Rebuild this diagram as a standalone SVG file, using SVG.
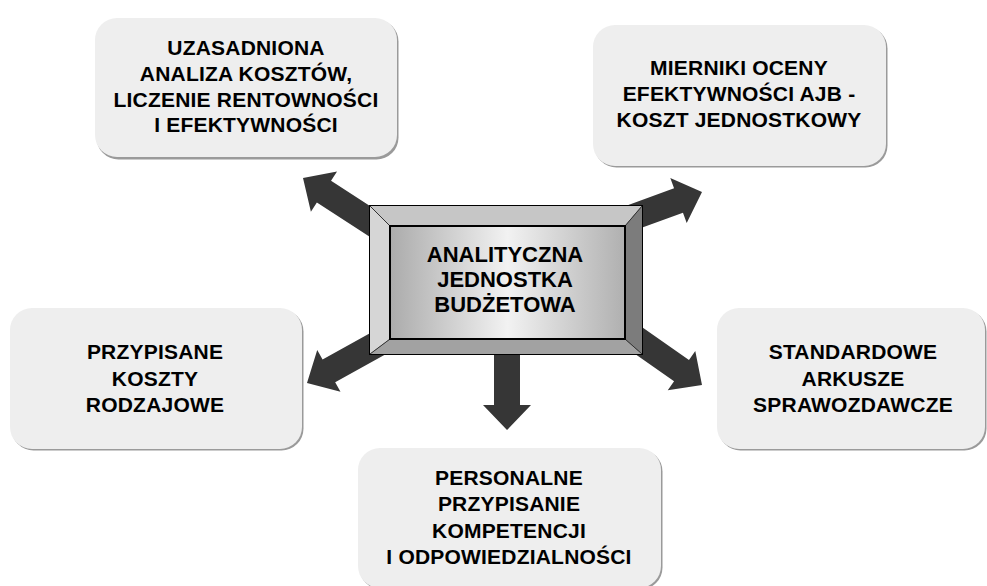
<svg xmlns="http://www.w3.org/2000/svg" width="987" height="586" viewBox="0 0 987 586">
  <style>
    .card { fill: #eeeeee; }
    .card-shadow { fill: #9a9a9a; }
    .lbl { font-family: "Liberation Sans", Arial, sans-serif; font-weight: bold; font-size: 21px; fill: #000; text-anchor: middle; letter-spacing: 0.2px; }
    .hub { font-size: 22px; letter-spacing: 0; }
    .arrow { fill: #363636; }
  </style>
  <defs>
    <!-- block arrow pointing right, tip at the origin -->
    <polygon id="blockArrow" points="0,0 -25,-24 -25,-13 -110,-13 -110,13 -25,13 -25,24"/>
    <linearGradient id="hubFace" x1="0" y1="0" x2="1" y2="0">
      <stop offset="0" stop-color="#ababab"/>
      <stop offset="0.5" stop-color="#f2f2f2"/>
      <stop offset="1" stop-color="#b0b0b0"/>
    </linearGradient>
  </defs>

  <rect width="987" height="586" fill="#ffffff"/>

  <!-- outgoing arrows from the hub -->
  <g id="connectors" class="arrow">
    <use href="#blockArrow" transform="translate(303,178) rotate(213)"/>
    <use href="#blockArrow" transform="translate(702,192) rotate(-20)"/>
    <use href="#blockArrow" transform="translate(307,383) rotate(151)"/>
    <use href="#blockArrow" transform="translate(702,385) rotate(35)"/>
    <use href="#blockArrow" transform="translate(507,430) rotate(90)"/>
  </g>

  <!-- bevelled hub -->
  <g id="hub">
    <rect x="369" y="205" width="274" height="150" fill="#000"/>
    <polygon points="370,206 642,206 625,226 390,226" fill="#c6c6c6"/>
    <polygon points="370,206 390,226 390,339 370,354" fill="#d6d6d6"/>
    <polygon points="642,206 642,354 625,339 625,226" fill="#7c7c7c"/>
    <polygon points="370,354 390,339 625,339 642,354" fill="#a2a2a2"/>
    <g stroke="#333" stroke-width="1">
      <line x1="370" y1="206" x2="390" y2="226"/>
      <line x1="642" y1="206" x2="625" y2="226"/>
      <line x1="370" y1="354" x2="390" y2="339"/>
      <line x1="642" y1="354" x2="625" y2="339"/>
    </g>
    <rect x="390" y="226" width="235" height="113" fill="url(#hubFace)" stroke="#000" stroke-width="2"/>
    <text class="lbl hub" x="505" y="262">ANALITYCZNA</text>
    <text class="lbl hub" x="505" y="287">JEDNOSTKA</text>
    <text class="lbl hub" x="505" y="312">BUDŻETOWA</text>
  </g>

  <g id="node-costs-analysis">
    <rect class="card-shadow" x="96.5" y="19.5" width="302" height="140" rx="22"/>
    <rect class="card" x="95" y="18" width="302" height="139" rx="22"/>
    <text class="lbl" x="246" y="55">UZASADNIONA</text>
    <text class="lbl" x="246" y="81">ANALIZA KOSZTÓW,</text>
    <text class="lbl" x="246" y="107">LICZENIE RENTOWNOŚCI</text>
    <text class="lbl" x="246" y="132">I EFEKTYWNOŚCI</text>
  </g>

  <g id="node-measures">
    <rect class="card-shadow" x="594.5" y="26.5" width="293" height="141" rx="22"/>
    <rect class="card" x="593" y="25" width="293" height="141" rx="22"/>
    <text class="lbl" x="739" y="75">MIERNIKI OCENY</text>
    <text class="lbl" x="739" y="101">EFEKTYWNOŚCI AJB -</text>
    <text class="lbl" x="739" y="127">KOSZT JEDNOSTKOWY</text>
  </g>

  <g id="node-cost-types">
    <rect class="card-shadow" x="11.5" y="309.5" width="292" height="141" rx="22"/>
    <rect class="card" x="10" y="308" width="292" height="141" rx="22"/>
    <text class="lbl" x="155" y="359">PRZYPISANE</text>
    <text class="lbl" x="155" y="386">KOSZTY</text>
    <text class="lbl" x="155" y="412">RODZAJOWE</text>
  </g>

  <g id="node-reports">
    <rect class="card-shadow" x="718.5" y="309.5" width="268" height="141" rx="22"/>
    <rect class="card" x="717" y="308" width="268" height="141" rx="22"/>
    <text class="lbl" x="853" y="359">STANDARDOWE</text>
    <text class="lbl" x="853" y="386">ARKUSZE</text>
    <text class="lbl" x="853" y="412">SPRAWOZDAWCZE</text>
  </g>

  <g id="node-responsibility">
    <rect class="card-shadow" x="359.5" y="449.5" width="303" height="140" rx="22"/>
    <rect class="card" x="358" y="448" width="303" height="140" rx="22"/>
    <text class="lbl" x="509" y="485">PERSONALNE</text>
    <text class="lbl" x="509" y="511">PRZYPISANIE</text>
    <text class="lbl" x="509" y="538">KOMPETENCJI</text>
    <text class="lbl" x="509" y="564">I ODPOWIEDZIALNOŚCI</text>
  </g>
</svg>
